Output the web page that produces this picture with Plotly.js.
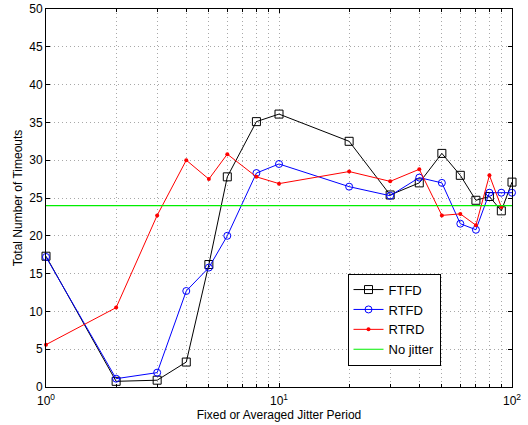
<!DOCTYPE html>
<html>
<head>
<meta charset="utf-8">
<script src="https://cdn.plot.ly/plotly-3.0.1.min.js"></script>
<style>html,body{margin:0;padding:0;background:#fff}#chart{width:528px;height:425px}</style>
</head>
<body>
<div id="chart"></div>
<script>
const periods = [1, 2, 3, 4, 5, 6, 8, 10, 20, 30, 40, 50, 60, 70, 80, 90, 100];
const ftfd = [17.3, 0.75, 0.9, 3.3, 16.2, 27.8, 35.1, 36.1, 32.5, 25.4, 27.0, 30.9, 28.0, 24.7, 25.2, 23.3, 27.1];
const rtfd = [17.2, 1.1, 1.9, 12.7, 15.8, 20.0, 28.3, 29.5, 26.5, 25.3, 27.7, 27.0, 21.6, 20.8, 25.7, 25.7, 25.7];
const rtrdPeriods = [1, 2, 3, 4, 5, 6, 8, 10, 20, 30, 40, 50, 60, 70, 80, 90];
const rtrd = [5.6, 10.5, 22.7, 30.0, 27.5, 30.8, 27.8, 26.9, 28.5, 27.2, 28.8, 22.7, 22.9, 21.4, 28.0, 23.8];
const noJitterX = [1, 100];
const noJitterY = [24, 24];
const xMajorVals = [1, 10, 100];
const xMajorText = ['10<sup>0</sup>', '10<sup>1</sup>', '10<sup>2</sup>'];
const xMinorVals = [2,3,4,5,6,7,8,9,20,30,40,50,60,70,80,90];
const yTickVals = [0,5,10,15,20,25,30,35,40,45,50];

const traces = [
  {x: periods, y: ftfd, name: 'FTFD', mode: 'lines+markers', cliponaxis: false, line: {color: '#000000', width: 1},
   marker: {symbol: 'square-open', size: 8, color: '#000000', line: {width: 1}}},
  {x: periods, y: rtfd, name: 'RTFD', mode: 'lines+markers', cliponaxis: false, line: {color: '#0000ff', width: 1},
   marker: {symbol: 'circle-open', size: 7, color: '#0000ff', line: {width: 1}}},
  {x: rtrdPeriods, y: rtrd, name: 'RTRD', mode: 'lines+markers', cliponaxis: false, line: {color: '#ff0000', width: 1},
   marker: {symbol: 'circle', size: 4, color: '#ff0000'}},
  {x: noJitterX, y: noJitterY, name: 'No jitter', mode: 'lines', line: {color: '#00ee00', width: 1.2}}
];

const font = {family: 'Liberation Sans, Arial, sans-serif', size: 12, color: '#000'};
const gridStyle = {showgrid: true, gridcolor: '#a8a8a8', griddash: '1px,3px', gridwidth: 1, zeroline: false};
const layout = {
  width: 528, height: 425,
  margin: {l: 46, r: 16, t: 9, b: 38},
  paper_bgcolor: '#fff', plot_bgcolor: '#fff',
  font: font,
  showlegend: true,
  legend: {x: 0.647, y: 0.30, xanchor: 'left', yanchor: 'top', bordercolor: '#000', borderwidth: 1,
           bgcolor: '#fff', font: {family: font.family, size: 13}, tracegroupgap: 0, itemwidth: 30},
  xaxis: Object.assign({type: 'log', range: [0, 2], tickmode: 'array', tickvals: xMajorVals, ticktext: xMajorText,
          ticks: 'inside', ticklen: 4, tickcolor: '#000', showline: true, linecolor: '#000', linewidth: 1,
          mirror: 'ticks', tickfont: {size: 12}, ticklabelstandoff: 3,
          minor: {tickmode: 'array', tickvals: xMinorVals, ticks: 'inside', ticklen: 3, tickcolor: '#000',
                  showgrid: true, gridcolor: '#a8a8a8', griddash: '1px,3px', gridwidth: 1},
          title: {text: 'Fixed or Averaged Jitter Period', font: {size: 12}, standoff: 3}}, gridStyle),
  yaxis: Object.assign({range: [0, 50], tickmode: 'array', tickvals: yTickVals,
          ticks: 'inside', ticklen: 4, tickcolor: '#000', showline: true, linecolor: '#000', linewidth: 1,
          mirror: 'ticks', tickfont: {size: 12},
          title: {text: 'Total Number of Timeouts', font: {size: 12}, standoff: 4}}, gridStyle)
};
Plotly.newPlot('chart', traces, layout, {displayModeBar: false, staticPlot: true});
</script>
</body>
</html>
